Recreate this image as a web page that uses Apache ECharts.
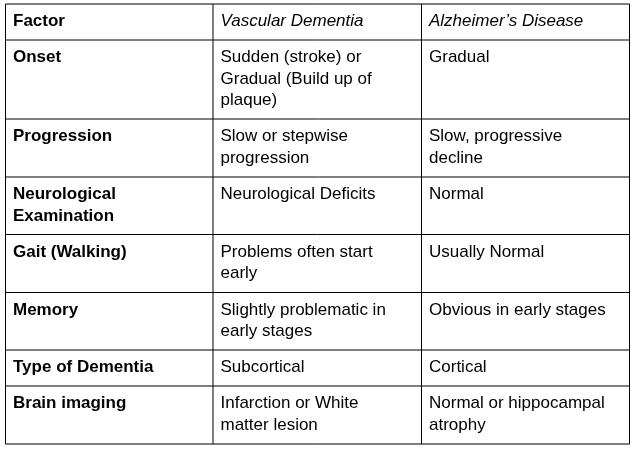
<!DOCTYPE html>
<html><head><meta charset="utf-8">
<script src="https://cdn.jsdelivr.net/npm/echarts@6/dist/echarts.min.js"></script>
<style>html,body{margin:0;background:#fff}#main{width:634px;height:452px}</style>
</head><body><div id="main"></div>
<script>
const headers = ['Factor', 'Vascular Dementia', 'Alzheimer\u2019s Disease'];
const factors = ['Onset', 'Progression', 'Neurological\nExamination', 'Gait (Walking)', 'Memory', 'Type of Dementia', 'Brain imaging'];
const vascular = ['Sudden (stroke) or\nGradual (Build up of\nplaque)', 'Slow or stepwise\nprogression', 'Neurological Deficits', 'Problems often start\nearly', 'Slightly problematic in\nearly stages', 'Subcortical', 'Infarction or White\nmatter lesion'];
const alzheimers = ['Gradual', 'Slow, progressive\ndecline', 'Normal', 'Usually Normal', 'Obvious in early stages', 'Cortical', 'Normal or hippocampal\natrophy'];

const colX = [5.5, 213, 421.5, 629.5];
const rowY = [4, 40, 119, 177, 234.5, 292.5, 350, 386, 444];

const chart = echarts.init(document.getElementById('main'));
const els = [];
const rows = [headers].concat(factors.map((f, i) => [f, vascular[i], alzheimers[i]]));
rows.forEach((r, ri) => {
  r.forEach((t, ci) => {
    els.push({
      type: 'text', left: colX[ci] + 7.5, top: rowY[ri] + 7,
      style: {
        text: t, fill: '#000', lineHeight: 21.5,
        font: (ci === 0 ? 'bold ' : (ri === 0 ? 'italic ' : '')) + '17px "Liberation Sans", Arial, sans-serif'
      }
    });
  });
});
rowY.forEach(y => els.push({ type: 'line', shape: { x1: colX[0], y1: y, x2: colX[3], y2: y }, style: { stroke: '#000', lineWidth: 1 } }));
colX.forEach(x => els.push({ type: 'line', shape: { x1: x, y1: rowY[0], x2: x, y2: rowY[8] }, style: { stroke: '#000', lineWidth: 1 } }));
chart.setOption({ graphic: { elements: els } });
</script></body></html>
